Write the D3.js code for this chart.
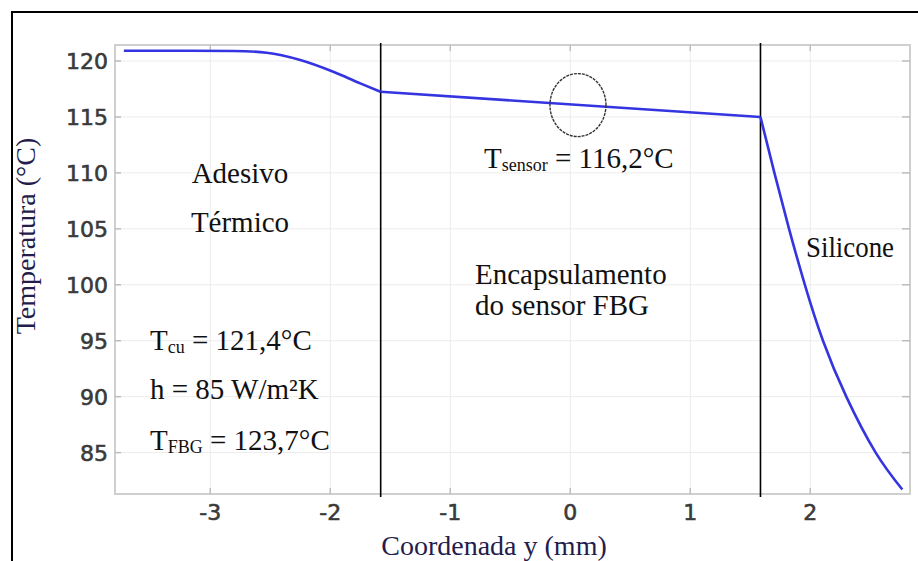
<!DOCTYPE html>
<html>
<head>
<meta charset="utf-8">
<script src="https://cdn.jsdelivr.net/npm/d3@7/dist/d3.min.js"></script>
<style>
  body { margin: 0; background: #fff; }
  svg { display: block; }
  .tick-lbl { font-family: "DejaVu Sans", sans-serif; font-size: 22px; fill: #3a3a3a; stroke: #3a3a3a; stroke-width: 0.6px; }
  .note { font-family: "Liberation Serif", "Times New Roman", serif; font-size: 29px; fill: #111; }
  .axis-title { font-family: "Liberation Serif", "Times New Roman", serif; font-size: 28px; fill: #241c4a; }
</style>
</head>
<body>
<svg id="chart" width="918" height="561"></svg>
<script>
// temperature profile along y, one array per material
var adesivoX = [-3.72, -3.2, -2.81, -2.53, -2.25, -1.975, -1.75, -1.58];
var adesivoT = [120.92, 120.92, 120.9, 120.74, 120.09, 119.04, 118.0, 117.25];
var sensorX = [-1.58, 1.585];
var sensorT = [117.25, 115.0];
var siliconeX = [1.585, 1.701, 1.823, 1.955, 2.106, 2.30, 2.545, 2.767];
var siliconeT = [115.0, 110.0, 105.0, 100.0, 95.0, 90.0, 85.0, 81.7];

var xTicks = [-3, -2, -1, 0, 1, 2];
var yTicks = [85, 90, 95, 100, 105, 110, 115, 120];
var boundaries = [-1.58, 1.585];
var sensorSpot = [0.064, 116.06];

var svg = d3.select('#chart');

var pLeft = 115, pRight = 910, pTop = 45, pBottom = 494;

var x = d3.scaleLinear().domain([-3.794, 2.831]).range([pLeft, pRight]);
var y = d3.scaleLinear().domain([81.3, 121.43]).range([pBottom, pTop]);

// outer frame (only top and left show in the crop)
svg.append('path')
    .attr('d', 'M12,561 L12,12 L918,12')
    .attr('fill', 'none')
    .attr('stroke', '#000')
    .attr('stroke-width', 2);

// grid
var grid = svg.append('g');
grid.selectAll('line.gx').data(xTicks).enter().append('line')
    .attr('x1', function(d) { return x(d); })
    .attr('x2', function(d) { return x(d); })
    .attr('y1', pTop).attr('y2', pBottom)
    .attr('stroke', '#ececec').attr('stroke-width', 1);
grid.selectAll('line.gy').data(yTicks).enter().append('line')
    .attr('y1', function(d) { return y(d); })
    .attr('y2', function(d) { return y(d); })
    .attr('x1', pLeft).attr('x2', pRight)
    .attr('stroke', '#ececec').attr('stroke-width', 1);

// plot box
svg.append('rect')
    .attr('x', pLeft).attr('y', pTop)
    .attr('width', pRight - pLeft).attr('height', pBottom - pTop)
    .attr('fill', 'none')
    .attr('stroke', '#cfcfcf')
    .attr('stroke-width', 2);

// inward ticks on all four sides
var tk = svg.append('g').attr('stroke', '#bdbdbd').attr('stroke-width', 1.5);
xTicks.forEach(function(d) {
    tk.append('line').attr('x1', x(d)).attr('x2', x(d)).attr('y1', pBottom).attr('y2', pBottom - 6);
    tk.append('line').attr('x1', x(d)).attr('x2', x(d)).attr('y1', pTop).attr('y2', pTop + 6);
});
yTicks.forEach(function(d) {
    tk.append('line').attr('y1', y(d)).attr('y2', y(d)).attr('x1', pLeft).attr('x2', pLeft + 6);
    tk.append('line').attr('y1', y(d)).attr('y2', y(d)).attr('x1', pRight).attr('x2', pRight - 8);
});

// tick labels
svg.append('g').selectAll('text').data(xTicks).enter().append('text')
    .attr('class', 'tick-lbl')
    .attr('x', function(d) { return x(d); })
    .attr('y', 520)
    .attr('text-anchor', 'middle')
    .text(function(d) { return d; });
svg.append('g').selectAll('text').data(yTicks).enter().append('text')
    .attr('class', 'tick-lbl')
    .attr('x', 108)
    .attr('y', function(d) { return y(d) + 8; })
    .attr('text-anchor', 'end')
    .text(function(d) { return d; });

// material boundaries
svg.append('g').selectAll('line').data(boundaries).enter().append('line')
    .attr('x1', function(d) { return x(d); })
    .attr('x2', function(d) { return x(d); })
    .attr('y1', 43).attr('y2', 497)
    .attr('stroke', '#000')
    .attr('stroke-width', 1.6);

// temperature curve, one piece per material so the corners stay sharp
var line = d3.line()
    .x(function(d) { return x(d[0]); })
    .y(function(d) { return y(d[1]); });
[[adesivoX, adesivoT, d3.curveMonotoneX],
 [sensorX, sensorT, d3.curveLinear],
 [siliconeX, siliconeT, d3.curveNatural]].forEach(function(s) {
    svg.append('path')
        .datum(d3.zip(s[0], s[1]))
        .attr('d', line.curve(s[2]))
        .attr('fill', 'none')
        .attr('stroke', '#3434e0')
        .attr('stroke-width', 2.6)
        .attr('stroke-linejoin', 'round');
});

// sensor marker
svg.append('ellipse')
    .attr('cx', x(sensorSpot[0]))
    .attr('cy', y(sensorSpot[1]))
    .attr('rx', 28)
    .attr('ry', 31.5)
    .attr('fill', 'none')
    .attr('stroke', '#333')
    .attr('stroke-width', 1.4)
    .attr('stroke-dasharray', '3,1');

// annotations
function note(px, py, parts, anchor) {
    var t = svg.append('text').attr('class', 'note')
        .attr('font-family', '"Liberation Serif", "Times New Roman", serif')
        .attr('x', px).attr('y', py)
        .attr('text-anchor', anchor || 'start');
    var shift = 0;
    parts.forEach(function(p) {
        var s = t.append('tspan').text(p.t);
        if (p.sub) {
            s.attr('font-size', 18).attr('dy', 3 - shift);
            shift = 3;
        } else if (shift) {
            s.attr('dy', -shift);
            shift = 0;
        }
    });
    return t;
}

note(240, 183, [{t: 'Adesivo'}], 'middle');
note(240, 232, [{t: 'Térmico'}], 'middle');
note(150, 350, [{t: 'T'}, {t: 'cu', sub: true}, {t: ' = 121,4°C'}]);
note(150, 399, [{t: 'h = 85 W/m²K'}]);
note(150, 450, [{t: 'T'}, {t: 'FBG', sub: true}, {t: ' = 123,7°C'}]);
note(484, 168, [{t: 'T'}, {t: 'sensor', sub: true}, {t: ' = 116,2°C'}]);
note(475, 284, [{t: 'Encapsulamento'}]);
note(475, 315, [{t: 'do sensor FBG'}]);
note(806, 257, [{t: 'Silicone'}])
    .attr('textLength', 88)
    .attr('lengthAdjust', 'spacingAndGlyphs');

// axis titles
svg.append('text')
    .attr('class', 'axis-title')
    .attr('transform', 'translate(35,236) rotate(-90)')
    .attr('text-anchor', 'middle')
    .text('Temperatura (°C)');
svg.append('text')
    .attr('class', 'axis-title')
    .attr('x', 494)
    .attr('y', 555)
    .attr('text-anchor', 'middle')
    .text('Coordenada y (mm)');
</script>
</body>
</html>
